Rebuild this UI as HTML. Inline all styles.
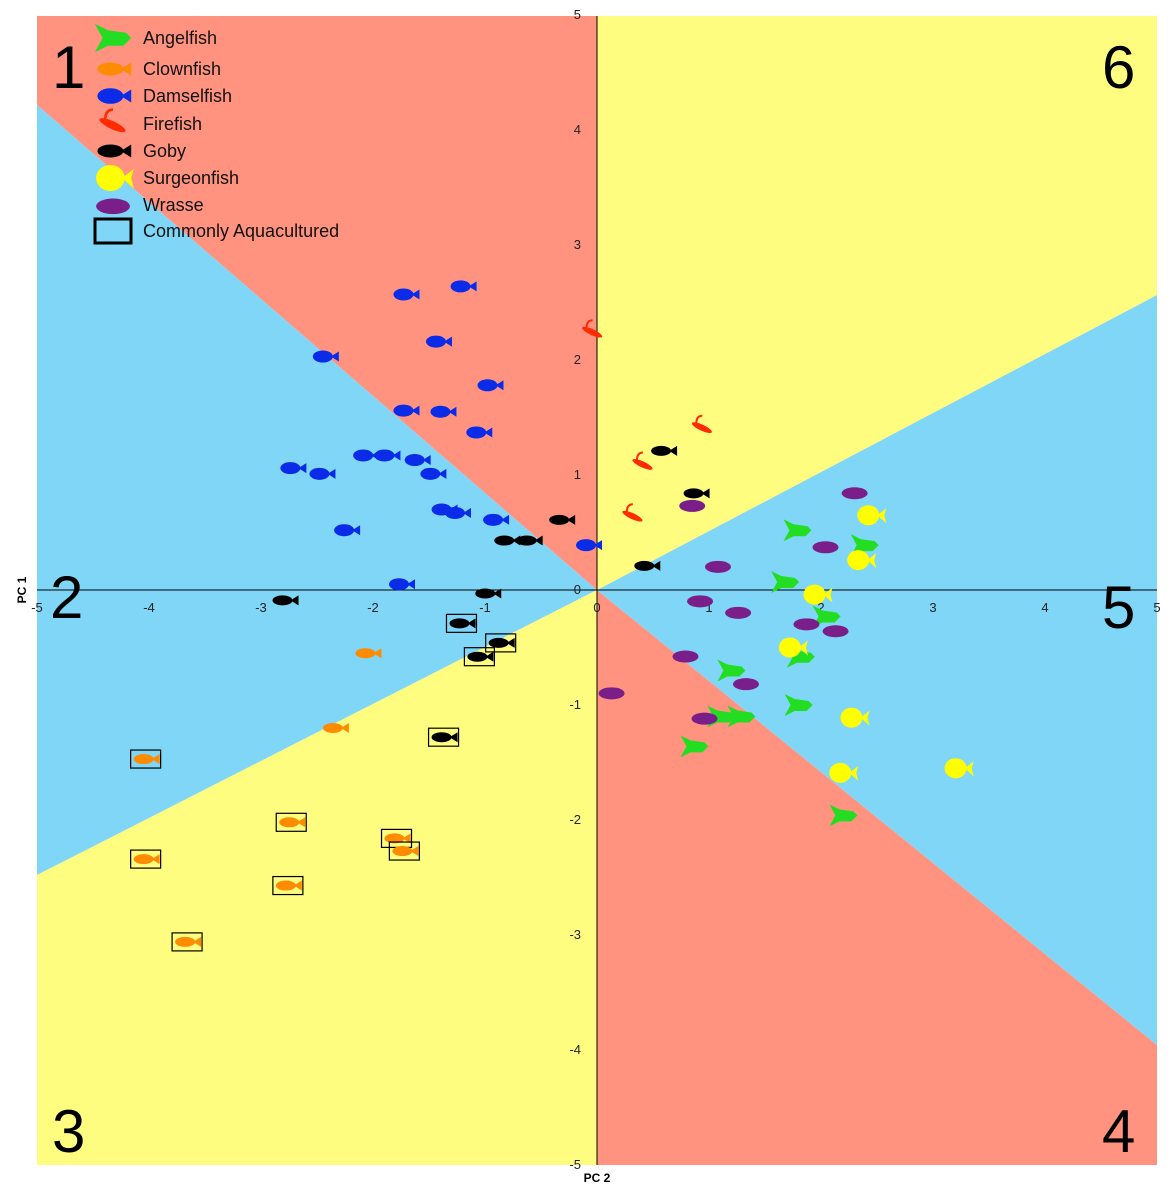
<!DOCTYPE html>
<html><head><meta charset="utf-8"><style>
html,body{margin:0;padding:0;background:#fff;}
svg{display:block;font-family:"Liberation Sans",sans-serif;}
</style></head><body>
<svg id="chart" width="1172" height="1200" viewBox="0 0 1172 1200">
<g id="regions">
<polygon points="597,590 37,105 37,16 597,16" fill="#FF9380"/>
<polygon points="597,590 37,105 37,875" fill="#80D6F6"/>
<polygon points="597,590 37,875 37,1165 597,1165" fill="#FFFD80"/>
<polygon points="597,590 597,1165 1157,1165 1157,1045" fill="#FF9380"/>
<polygon points="597,590 1157,1045 1157,295" fill="#80D6F6"/>
<polygon points="597,590 1157,295 1157,16 597,16" fill="#FFFD80"/>
</g>
<line x1="37" y1="590" x2="1157" y2="590" stroke="#000" stroke-width="1"/>
<line x1="597" y1="16" x2="597" y2="1165" stroke="#000" stroke-width="1"/>
<g id="ticks" font-size="13" fill="#222"></g>
<text x="26" y="590" font-size="12" font-weight="bold" text-anchor="middle" transform="rotate(-90 26 590)">PC 1</text>
<text x="597" y="1182" font-size="12" font-weight="bold" text-anchor="middle">PC 2</text>
<g font-size="60" fill="#000">
<text x="52" y="88">1</text>
<text x="1102" y="88">6</text>
<text x="50" y="618">2</text>
<text x="1102" y="628">5</text>
<text x="52" y="1152">3</text>
<text x="1102" y="1152">4</text>
</g>
<g id="points"></g>
<g id="legend" font-size="18" fill="#111"></g>
</svg>
<script>
const xTicks=[-5,-4,-3,-2,-1,0,1,2,3,4,5];
const yTicks=[5,4,3,2,1,0,-1,-2,-3,-4,-5];
const species=["Angelfish","Clownfish","Damselfish","Firefish","Goby","Surgeonfish","Wrasse"];
const colors=["#22DD22","#FF8C00","#0A2BE8","#FF2A00","#000000","#FFFF00","#7A1F8A"];
const angelX=[1.79,1.68,2.39,2.05,1.82,1.20,1.80,1.11,1.29,0.87,2.20];
const angelY=[0.52,0.07,0.39,-0.23,-0.58,-0.70,-1.00,-1.10,-1.10,-1.36,-1.96];
const clownX=[-2.05,-2.34,-4.03,-2.73,-1.79,-1.72,-4.03,-2.76,-3.66];
const clownY=[-0.55,-1.20,-1.47,-2.02,-2.16,-2.27,-2.34,-2.57,-3.06];
const clownBox=[0,0,1,1,1,1,1,1,1];
const damselX=[-1.71,-1.20,-2.43,-1.42,-0.96,-1.71,-1.38,-1.06,-2.72,-2.46,-2.07,-1.88,-1.61,-1.47,-1.37,-1.25,-0.91,-2.24,-0.08,-1.75];
const damselY=[2.57,2.64,2.03,2.16,1.78,1.56,1.55,1.37,1.06,1.01,1.17,1.17,1.13,1.01,0.70,0.67,0.61,0.52,0.39,0.05];
const fireX=[-0.04,0.94,0.41,0.32];
const fireY=[2.25,1.42,1.10,0.65];
const gobyX=[-2.79,-0.32,-0.61,-0.81,0.59,0.88,0.44,-0.98,-1.21,-0.86,-1.05,-1.37];
const gobyY=[-0.09,0.61,0.43,0.43,1.21,0.84,0.21,-0.03,-0.29,-0.46,-0.58,-1.28];
const gobyBox=[0,0,0,0,0,0,0,0,1,1,1,1];
const surgX=[2.44,2.35,1.96,1.74,2.29,2.19,3.22];
const surgY=[0.65,0.26,-0.04,-0.50,-1.11,-1.59,-1.55];
const wrasseX=[2.30,0.85,2.04,1.08,0.92,1.26,1.87,2.13,0.79,1.33,0.13,0.96];
const wrasseY=[0.85,0.74,0.38,0.21,-0.09,-0.19,-0.29,-0.35,-0.57,-0.81,-0.89,-1.11];

const NS="http://www.w3.org/2000/svg";
const sx=v=>597+v*112;
const sy=v=>590-v*115;
function mk(tag,attrs,parent){const e=document.createElementNS(NS,tag);for(const k in attrs)e.setAttribute(k,attrs[k]);parent.appendChild(e);return e;}

const tg=document.getElementById('ticks');
xTicks.forEach(t=>{
  const e=mk('text',{x:sx(t),y:612,'text-anchor':'middle'},tg);e.textContent=t;
  
  
});
yTicks.forEach(t=>{
  const e=mk('text',{x:581,y:sy(t)+4,'text-anchor':'end'},tg);e.textContent=t;
  
  
});

function fish(parent,cx,cy,si,scale){
  const c=colors[si];const s=scale||1;
  const g=mk('g',{transform:`translate(${cx},${cy}) scale(${s})`},parent);
  if(si===5){mk('ellipse',{cx:-2,cy:0,rx:11,ry:10,fill:c},g);mk('polygon',{points:'7,0 16,-7 14,0 16,8',fill:c},g);}
  else if(si===0){mk('polygon',{points:'-14,-11 -4,-6 10,-4 14,0 8,6 -4,6 -14,11 -8,0',fill:c},g);}
  else if(si===3){mk('ellipse',{cx:0,cy:1,rx:11,ry:3,fill:c,transform:'rotate(25)'},g);mk('path',{d:'M-6,-3 Q-6,-11 0,-11',stroke:c,'stroke-width':2,fill:'none'},g);}
  else if(si===6){mk('ellipse',{cx:0,cy:1,rx:13,ry:6,fill:c},g);}
  else {mk('ellipse',{cx:-2,cy:0,rx:10,ry:si===2?6:5,fill:c},g);mk('polygon',{points:'6,0 14,-5 14,5',fill:c},g);}
  return g;
}
const pg=document.getElementById('points');
const sets=[[angelX,angelY,null],[clownX,clownY,clownBox],[damselX,damselY,null],[fireX,fireY,null],[gobyX,gobyY,gobyBox],[surgX,surgY,null],[wrasseX,wrasseY,null]];
const nm=['angelfish','clownfish','damselfish','firefish','goby','surgeonfish','wrasse'];
sets.forEach((s,si)=>{
  s[0].forEach((v,i)=>{
    const px=sx(v),py=sy(s[1][i]);
    if(s[2]&&s[2][i]){
      const r=mk('rect',{x:px-15,y:py-9,width:30,height:18,fill:'none',stroke:'#000','stroke-width':1.2},pg);
      
      
    }
    const g=fish(pg,px,py,si,1.0);
    
    
  });
});
const lg=document.getElementById('legend');
const ly=[38,69,96,124,151,178,205];
species.forEach((n,i)=>{
  const g=fish(lg,113,ly[i],i,1.3);
  
  
  const t=mk('text',{x:143,y:ly[i]+6},lg);t.textContent=n;
  
  
});
const lb=mk('rect',{x:95,y:219,width:36,height:24,fill:'none',stroke:'#000','stroke-width':3},lg);


const lt=mk('text',{x:143,y:237},lg);lt.textContent='Commonly Aquacultured';


</script>
</body></html>
